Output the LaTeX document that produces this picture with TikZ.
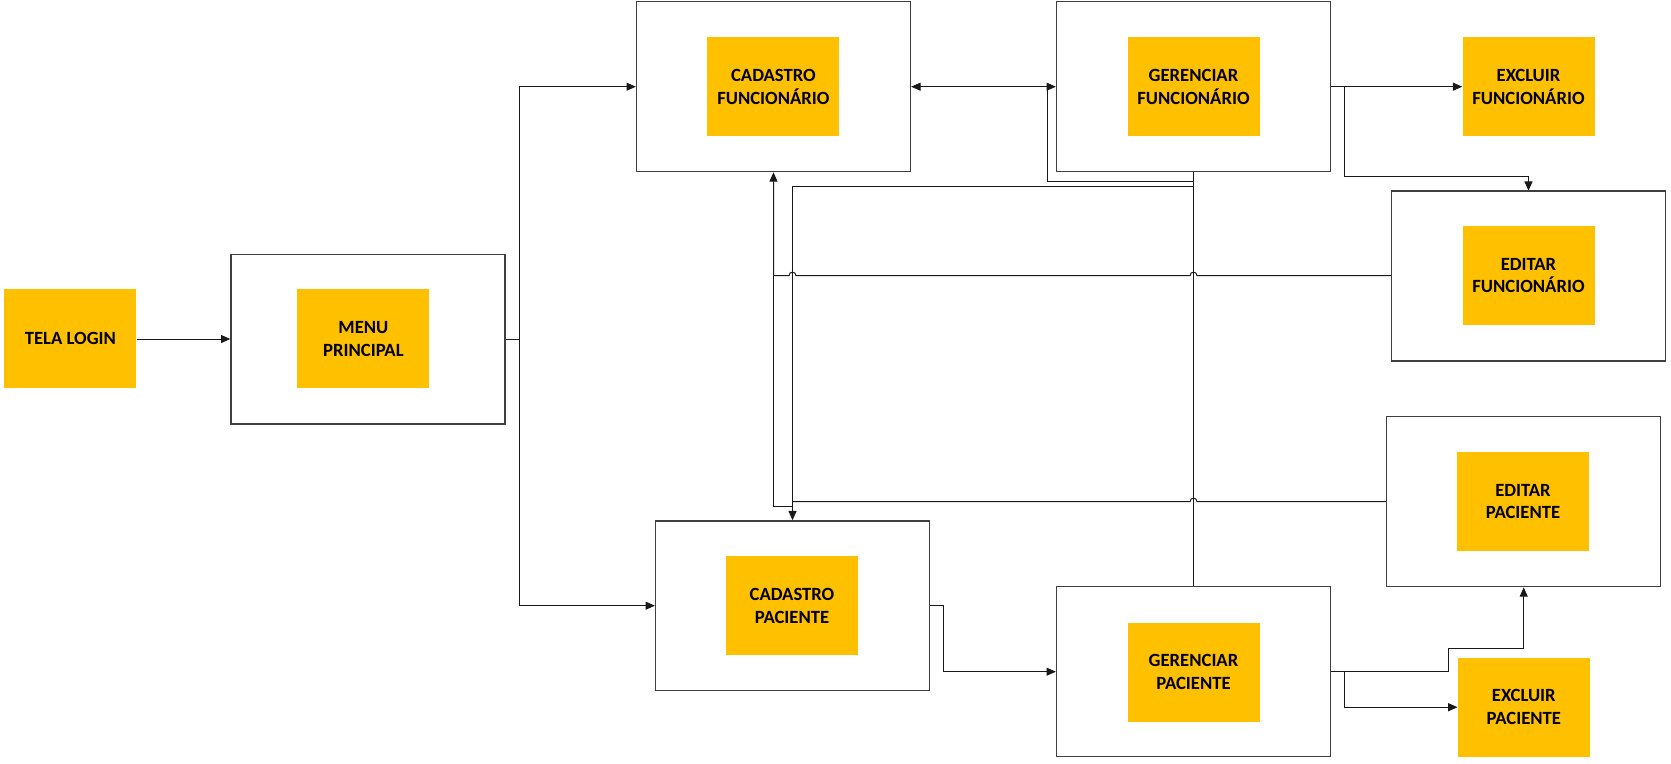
\documentclass[tikz,border=0pt]{standalone}
\usepackage{fontspec}
\setmainfont{Carlito}
\usetikzlibrary{arrows.meta}
\definecolor{amber}{HTML}{FFC000}
\tikzset{
  x=0.75pt, y=-0.75pt,
  outerbox/.style={draw=black!75, line width=1pt, fill=white, minimum width=274*0.75pt, minimum height=170*0.75pt, inner sep=0pt},
  yellowbox/.style={fill=amber, minimum width=132*0.75pt, minimum height=99*0.75pt, inner sep=0pt, align=center, font=\fontsize{14}{17}\selectfont\bfseries, text=black},
  conn/.style={draw=black!90, line width=0.75pt},
  tip/.tip={Triangle[length=7pt,width=6pt]},
  arr/.style={conn, -tip},
}
\newcommand{\hopL}[2]{-- (#1+3.5,#2) .. controls (#1+3.5,#2-4.7) and (#1-3.5,#2-4.7) .. (#1-3.5,#2)}
\begin{document}
\begin{tikzpicture}
\useasboundingbox (0,0) rectangle (1671,764);
% outer boxes
\node[outerbox, minimum height=169.5*0.75pt] (menu) at (368,339.25) {};
\node[outerbox] (cadf) at (773.5,86.7) {};
\node[outerbox] (gerf) at (1193.5,86.7) {};
\node[outerbox] (editf) at (1528.7,276) {};
\node[outerbox] (editp) at (1523.7,501.7) {};
\node[outerbox, minimum height=169.5*0.75pt] (cadp) at (792.5,605.7) {};
\node[outerbox] (gerp) at (1193.5,671.7) {};
% yellow boxes
\node[yellowbox] (login) at (70.4,338.8) {TELA LOGIN};
\node[yellowbox] (menuy) at (363.4,338.8) {MENU\\PRINCIPAL};
\node[yellowbox] (cadfy) at (773.4,86.8) {CADASTRO\\FUNCIONÁRIO};
\node[yellowbox] (gerfy) at (1193.5,86.8) {GERENCIAR\\FUNCIONÁRIO};
\node[yellowbox] (exclf) at (1528.5,86.8) {EXCLUIR\\FUNCIONÁRIO};
\node[yellowbox] (editfy) at (1528.5,275.5) {EDITAR\\FUNCIONÁRIO};
\node[yellowbox] (editpy) at (1523,501.5) {EDITAR\\PACIENTE};
\node[yellowbox] (cadpy) at (792,605.8) {CADASTRO\\PACIENTE};
\node[yellowbox] (gerpy) at (1193.5,672) {GERENCIAR\\PACIENTE};
\node[yellowbox] (exclp) at (1523.8,707.2) {EXCLUIR\\PACIENTE};
% coordinates for bends
\coordinate (mfork) at (519,339);
\coordinate (jA) at (1047,86.7);
\coordinate (hA) at (1193.5,186);
\coordinate (hB) at (773.5,275.7);
\coordinate (fG) at (1344.3,86.7);
\coordinate (fP) at (1344.7,671.7);
% connectors
\draw[arr] (login.east |- 0,339) -- (menu.west |- 0,339);
\draw[conn] (menu.east |- mfork) -- (mfork);
\draw[arr] (mfork) |- (cadf.west);
\draw[arr] (mfork) |- (cadp.west);
\draw[conn, tip-tip] (cadf.east) -- (gerf.west);
\draw[conn] (jA) -- (1047,181.7) -- (1193.5,181.7);
\draw[conn] (gerf.south) -- (gerp.north);
\draw[arr] (hA) -- (792.5,186) -- (cadp.north);
\draw[arr] (editf.west |- 0,275.7) \hopL{1193.5}{275.7} \hopL{792.5}{275.7} -- (hB) -- (cadf.south);
\draw[conn] (editp.west) \hopL{1193.5}{501.7} -- (792.5,501.7);
\draw[conn] (hB) -- (773.5,506.7) -- (792.5,506.7);
\draw[arr] (gerf.east) -- (exclf.west |- gerf.east);
\draw[arr] (fG) -- (1344.3,176.7) -- (1528.5,176.7) -- (1528.5,190.7);
\draw[arr] (gerp.east) -- (1448,671.7) -- (1448,648.3) -- (1523.7,648.3) -- (editp.south);
\draw[arr] (fP) |- (exclp.west);
\draw[arr] (cadp.east) -- (943.6,605.7) -- (943.6,671.7) -- (gerp.west);
\end{tikzpicture}
\end{document}
